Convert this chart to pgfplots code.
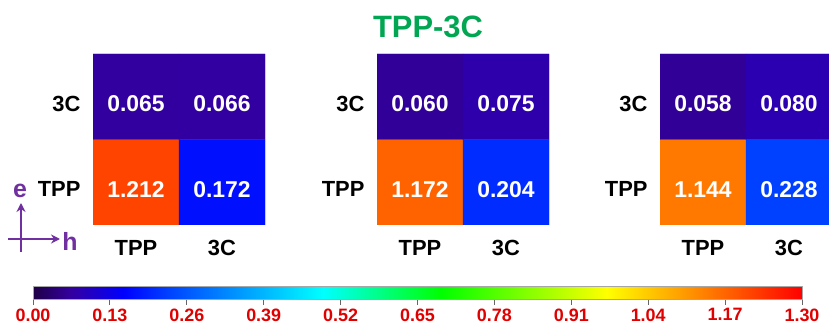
\documentclass[border=0pt]{standalone}
\usepackage{pgfplots}
\pgfplotsset{compat=1.18}
\usepackage{fontspec}
\setmainfont{Liberation Sans}
\usetikzlibrary{arrows.meta}
\definecolor{ttl}{RGB}{0,166,81}
\definecolor{arr}{RGB}{112,48,160}
\definecolor{lbl}{RGB}{225,0,0}
\pgfplotsset{
  colormap={tpp}{rgb255(0pt)=(30,0,70) rgb255(65pt)=(51,0,160) rgb255(153pt)=(0,0,255) rgb255(228pt)=(0,64,255) rgb255(490pt)=(0,255,255) rgb255(690pt)=(0,255,0) rgb255(970pt)=(255,255,0) rgb255(1300pt)=(255,0,0)},
  heat/.style={scale only axis, width=172bp, height=171bp,
    xmin=-0.5, xmax=1.5, ymin=-0.5, ymax=1.5, enlargelimits=false,
    xtick={0,1}, xticklabels={TPP,3C}, ytick={0,1}, yticklabels={TPP,3C},
    axis line style={draw=none}, major tick length=0pt,
    colormap name=tpp, point meta min=0, point meta max=1.3,
    ticklabel style={font=\bfseries\fontsize{22}{24}\selectfont},
    xticklabel style={yshift=-12bp}, yticklabel style={xshift=-9bp, yshift=-7bp},
    nodes near coords, nodes near coords align={center},
    every node near coord/.append style={font=\bfseries\fontsize{23}{25}\selectfont, text=white, anchor=center, yshift=-7bp},
    /pgf/number format/fixed, /pgf/number format/zerofill, /pgf/number format/precision=3,
    /pgf/number format/assume math mode=true,
    anchor=south west},
}
\begin{document}
\begin{tikzpicture}
\path[use as bounding box] (0,0) rectangle (829bp,325bp);
\begin{axis}[heat, at={(93bp,100bp)}]
\addplot[matrix plot*, mesh/cols=2, point meta=explicit] table[meta=c] {
x y c
0 0 1.212
1 0 0.172
0 1 0.065
1 1 0.066
};
\end{axis}
\begin{axis}[heat, at={(377bp,100bp)}]
\addplot[matrix plot*, mesh/cols=2, point meta=explicit] table[meta=c] {
x y c
0 0 1.172
1 0 0.204
0 1 0.060
1 1 0.075
};
\end{axis}
\begin{axis}[heat, at={(660bp,100bp)}]
\addplot[matrix plot*, mesh/cols=2, point meta=explicit] table[meta=c] {
x y c
0 0 1.144
1 0 0.228
0 1 0.058
1 1 0.080
};
\end{axis}
\begin{axis}[hide axis, scale only axis, at={(33bp,34bp)}, anchor=south west,
  width=769bp, height=13bp, xmin=0, xmax=1, ymin=0, ymax=1,
  colormap name=tpp, point meta min=0, point meta max=1.3,
  colorbar horizontal,
  colorbar style={at={(parent axis.south west)}, anchor=south west,
    scale only axis, width=769bp, height=13bp,
    xtick={0,0.13,0.26,0.39,0.52,0.65,0.78,0.91,1.04,1.17,1.30},
    xtick pos=bottom, tick align=outside, major tick length=5bp,
    tick style={black!60, line width=0.9bp},
    axis line style={black!35, line width=0.4bp},
    xticklabel style={text=lbl, font=\bfseries\fontsize{18}{20}\selectfont, yshift=-0.5bp},
    /pgf/number format/fixed, /pgf/number format/zerofill,
    /pgf/number format/precision=2, /pgf/number format/assume math mode=true}]
\addplot[draw=none] coordinates {(0,0) (1,1)};
\end{axis}
\node[text=ttl, font=\bfseries\fontsize{31}{33}\selectfont] at (428bp,298bp) {TPP-3C};
\draw[arr, line width=2bp, -{Stealth[length=9bp,width=9bp]}] (21bp,73bp) -- (21bp,122bp);
\draw[arr, line width=2bp, -{Stealth[length=9bp,width=9bp]}] (8bp,86bp) -- (60bp,86bp);
\node[text=arr, font=\bfseries\fontsize{25}{27}\selectfont] at (20bp,134bp) {e};
\node[text=arr, font=\bfseries\fontsize{25}{27}\selectfont] at (70bp,84bp) {h};
\end{tikzpicture}
\end{document}
